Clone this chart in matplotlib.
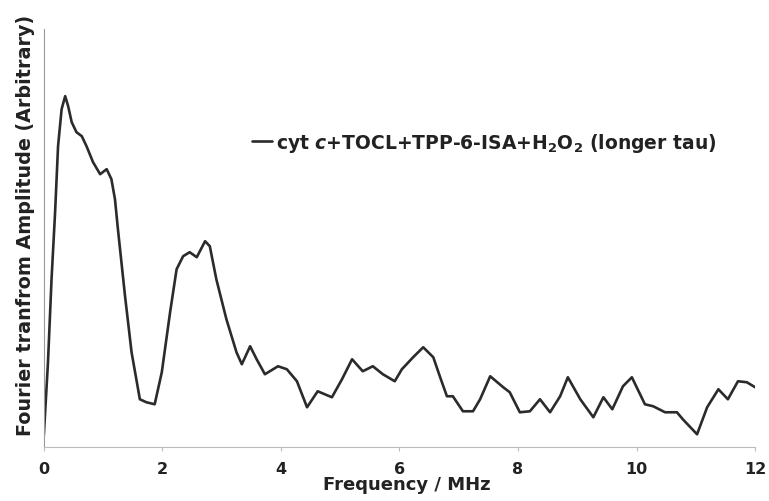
import numpy as np
import matplotlib
matplotlib.use("Agg")
import matplotlib.pyplot as plt

plt.rcParams["font.family"] = ["DejaVu Sans"]
plt.rcParams["font.weight"] = "bold"
plt.rcParams["mathtext.fontset"] = "custom"
plt.rcParams["mathtext.rm"] = "DejaVu Sans:bold"
plt.rcParams["mathtext.it"] = "DejaVu Sans:bold:italic"
plt.rcParams["mathtext.bf"] = "DejaVu Sans:bold"

# ===== data =====
freq = [0.00, 0.07, 0.13, 0.19, 0.24, 0.30, 0.36, 0.41, 0.47, 0.55,
        0.64, 0.72, 0.83, 0.95, 1.06, 1.14, 1.20, 1.25, 1.37, 1.48,
        1.62, 1.73, 1.87, 1.99, 2.13, 2.24, 2.35, 2.46, 2.58, 2.72,
        2.80, 2.91, 3.08, 3.25, 3.34, 3.48, 3.59, 3.73, 3.95, 4.10,
        4.27, 4.44, 4.62, 4.86, 5.03, 5.20, 5.38, 5.55, 5.72, 5.92,
        6.04, 6.23, 6.40, 6.57, 6.68, 6.80, 6.90, 7.07, 7.24, 7.36,
        7.53, 7.75, 7.86, 8.03, 8.20, 8.37, 8.54, 8.71, 8.84, 9.05,
        9.27, 9.44, 9.59, 9.77, 9.92, 10.14, 10.28, 10.48, 10.68, 10.78,
        11.02, 11.19, 11.38, 11.54, 11.71, 11.86, 12.00]
amp = [12, 85, 168, 235, 301, 338, 351, 341, 325, 315,
       311, 301, 285, 273, 278, 268, 248, 218, 151, 95,
       48, 45, 43, 75, 135, 178, 191, 195, 190, 206,
       201, 168, 128, 95, 83, 101, 88, 73, 81, 78,
       66, 40, 56, 50, 68, 88, 76, 81, 73, 66,
       78, 90, 100, 90, 71, 51, 51, 36, 36, 48,
       71, 60, 55, 35, 36, 48, 35, 51, 70, 48,
       30, 50, 38, 61, 70, 43, 41, 35, 35, 28,
       13, 40, 58, 48, 66, 65, 60]
xticks = [0, 2, 4, 6, 8, 10, 12]
label = r"cyt $c$+TOCL+TPP-6-ISA+H$_2$O$_2$ (longer tau)"

# ===== plot =====
fig = plt.figure(figsize=(7.69, 5.02), dpi=100)
ax = fig.add_axes([0.057, 0.107, 0.925, 0.833])

ax.plot(freq, amp, color="#2b2b2b", lw=1.9, solid_joinstyle="round",
        solid_capstyle="round", label=label)

ax.set_xlim(0, 12)
ax.set_ylim(0, 418)
ax.set_xticks(xticks)
ax.set_yticks([])
ax.tick_params(axis="x", length=3, color="#bbbbbb", labelsize=11.5,
               labelcolor="#222222", pad=7)

for s in ["top", "right"]:
    ax.spines[s].set_visible(False)
ax.spines["left"].set_color("#999999")
ax.spines["bottom"].set_color("#bbbbbb")

ax.set_xlabel("Frequency / MHz", fontsize=13, fontweight="bold", color="#222222")
ax.xaxis.set_label_coords(0.51, -0.066)
ax.set_ylabel("Fourier tranfrom Amplitude (Arbitrary)", fontsize=13.8,
              fontweight="bold", color="#222222")
ax.yaxis.set_label_coords(-0.012, 0.533)

ax.legend(loc="center left", bbox_to_anchor=(0.2925, 0.73), frameon=False,
          borderaxespad=0, borderpad=0, handlelength=1.07, handletextpad=0.2,
          fontsize=13.5, labelcolor="#222222")

fig.savefig("out.png", dpi=100)
